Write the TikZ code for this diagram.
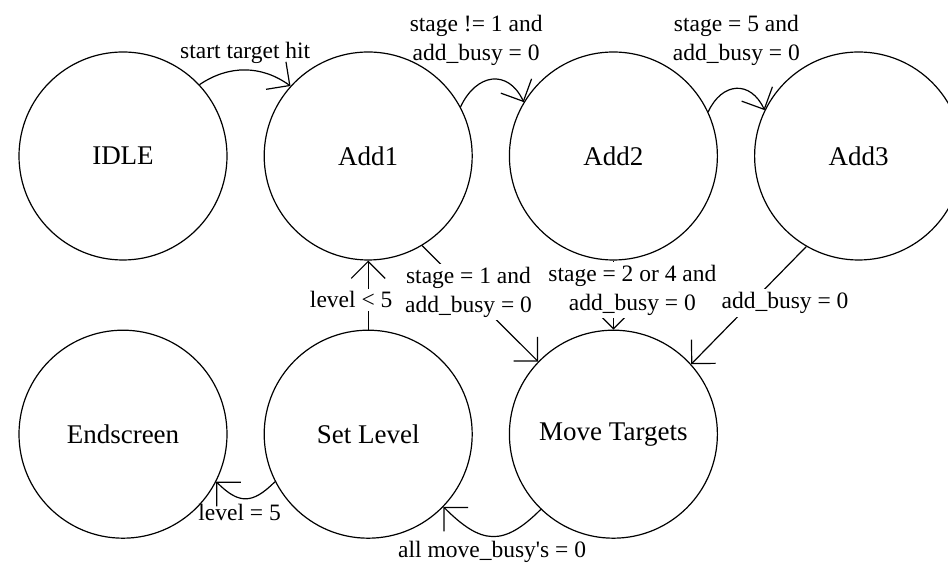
\documentclass[tikz,border=0pt]{standalone}
\usepackage{fontspec}
\setmainfont{Liberation Serif}
\usetikzlibrary{arrows.meta, positioning}

\begin{document}
\begin{tikzpicture}[
  x=1pt, y=1pt,
  >={Straight Barb[angle=90:24pt]},
  state/.style={
    circle, draw, line width=1.2pt, minimum size=208pt, inner sep=0pt,
    font=\fontsize{27}{30}\selectfont
  },
  flow/.style={->, line width=1.2pt},
  cond/.style={font=\fontsize{23.5}{29}\selectfont, align=center, inner sep=1pt},
  condbg/.style={cond, fill=white, inner sep=3pt}
]
\useasboundingbox (0,0) rectangle (948,567);
\clip (0,0) rectangle (948,567);

% States
\node[state] (idle) at (123,411) {IDLE};
\node[state, right=36pt of idle] (add1) {Add1};
\node[state, right=36pt of add1] (add2) {Add2};
\node[state, right=36pt of add2] (add3) {Add3};
\node[state, below=69pt of idle] (endscr) {Endscreen};
\node[state, right=36pt of endscr] (setlvl) {Set Level};
\node[state, right=36pt of setlvl] (move) {Move Targets};

% Transitions along the top row
\draw[flow] (idle.43) to[bend left=35] node[cond, midway, above=5pt] {start target hit} (add1.138);
\draw[flow] (add1.28) to[out=65, in=115, looseness=1.5] node[cond, midway, above=12pt, xshift=-16pt] {stage != 1 and\\add\_busy = 0} (add2.149);
\draw[flow] (add2.25) to[out=65, in=115, looseness=1.5] node[cond, midway, above=21pt] {stage = 5 and\\add\_busy = 0} (add3.154);

% Transitions into Move Targets
\draw[flow] (add1.-59) -- node[condbg, pos=.4] {stage = 1 and\\add\_busy = 0} (move.136);
\draw[flow] (add2.south) -- node[condbg, pos=.43, xshift=19pt] {stage = 2 or 4 and\\add\_busy = 0} (move.north);
\draw[flow] (add3.240) -- node[condbg, pos=.48, xshift=34pt] {add\_busy = 0} (move.42);

% Level handling
\draw[flow] (setlvl.north) -- node[condbg, pos=.43, xshift=-17pt] {level < 5} (add1.south);
\draw[flow] (setlvl.207) to[out=-135, in=-45, looseness=1.4] node[cond, midway, below=4pt, xshift=-6pt] {level = 5} (endscr.333);
\draw[flow] (move.226) to[out=-135, in=-45, looseness=1.4] node[cond, midway, below=3pt] {all move\_busy\textquotesingle s = 0} (setlvl.316);

\end{tikzpicture}
\end{document}
